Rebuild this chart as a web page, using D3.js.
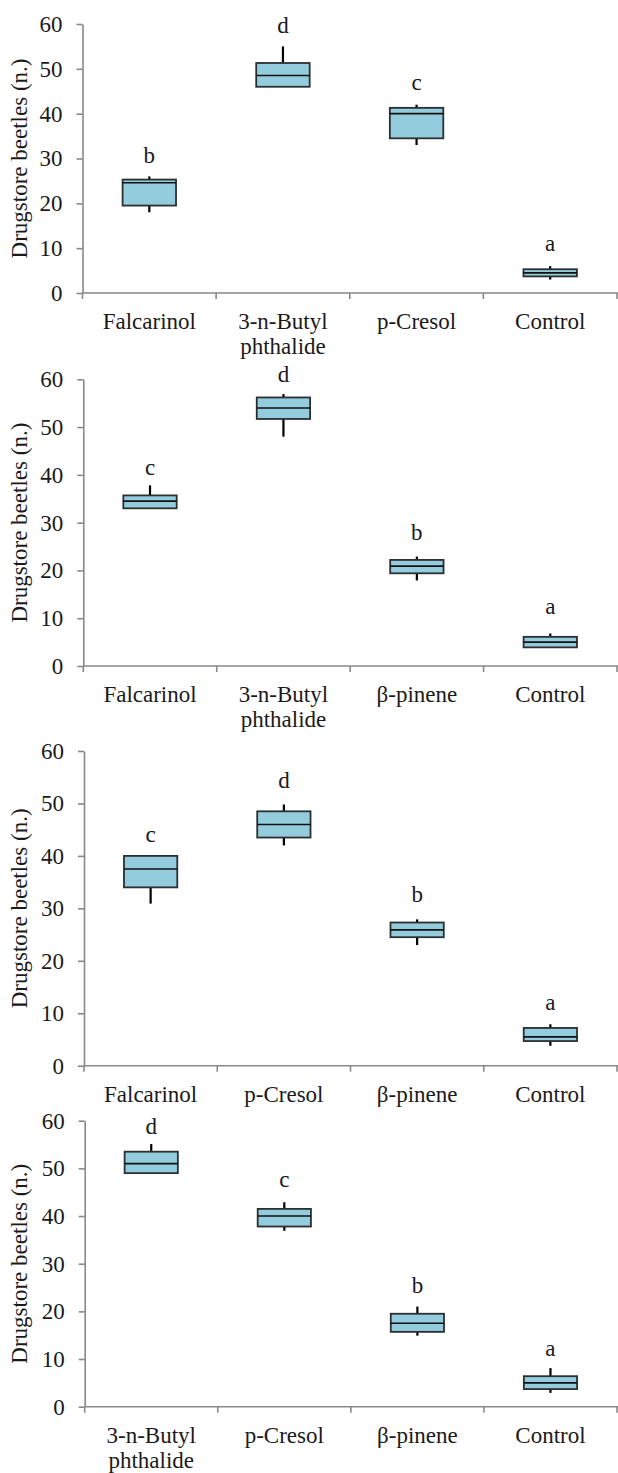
<!DOCTYPE html>
<html>
<head>
<meta charset="utf-8">
<script src="https://cdn.jsdelivr.net/npm/d3@7"></script>
<style>
  html, body { margin: 0; padding: 0; background: #fff; }
  svg { display: block; }
  svg text { font-family: "Liberation Serif", "Times New Roman", Times, serif !important; fill: #1a1a1a; }
</style>
</head>
<body>
<svg id="chart" width="618" height="1473"></svg>
<script>
// ---- Data ----
const categories1 = ["Falcarinol", "3-n-Butyl\nphthalide", "p-Cresol", "Control"];
const min1    = [18, 46, 33, 3];
const q1_1    = [19.5, 46, 34.5, 3.7];
const median1 = [24.6, 48.5, 40, 4.5];
const q3_1    = [25.3, 51.3, 41.3, 5.3];
const max1    = [26, 55, 42, 6];
const letters1 = ["b", "d", "c", "a"];
const letterY1 = [29.1, 57.9, 45.3, 9.4];

const categories2 = ["Falcarinol", "3-n-Butyl\nphthalide", "β-pinene", "Control"];
const min2    = [33, 48, 17.9, 3.9];
const q1_2    = [33, 51.7, 19.4, 3.9];
const median2 = [34.5, 54, 20.9, 5];
const q3_2    = [35.7, 56.2, 22.2, 6.1];
const max2    = [37.8, 56.9, 22.9, 6.8];
const letters2 = ["c", "d", "b", "a"];
const letterY2 = [40, 59.5, 26.4, 10.8];

const categories3 = ["Falcarinol", "p-Cresol", "β-pinene", "Control"];
const min3    = [30.9, 42, 23, 3.8];
const q1_3    = [34, 43.5, 24.5, 4.7];
const median3 = [37.5, 46, 25.9, 5.5];
const q3_3    = [40, 48.5, 27.3, 7.2];
const max3    = [40, 49.8, 27.9, 7.9];
const letters3 = ["c", "d", "b", "a"];
const letterY3 = [42.7, 52.9, 31.2, 10.6];

const categories4 = ["3-n-Butyl\nphthalide", "p-Cresol", "β-pinene", "Control"];
const min4    = [49, 36.9, 14.9, 2.9];
const q1_4    = [49, 37.8, 15.7, 3.7];
const median4 = [51, 40, 17.5, 5];
const q3_4    = [53.5, 41.5, 19.5, 6.4];
const max4    = [55.1, 42.9, 21, 8.1];
const letters4 = ["d", "c", "b", "a"];
const letterY4 = [57.3, 46, 23.9, 10.6];

const yTicks = [0, 10, 20, 30, 40, 50, 60];
const yDomain = [0, 60];
const yTitle = "Drugstore beetles (n.)";

// ---- Layout ----
const panels = [
  { cats: categories1, mn: min1, q1: q1_1, md: median1, q3: q3_1, mx: max1, let: letters1, ly: letterY1, top: 24,    bottom: 293,    left: 82.5 },
  { cats: categories2, mn: min2, q1: q1_2, md: median2, q3: q3_2, mx: max2, let: letters2, ly: letterY2, top: 379.3, bottom: 666,    left: 83.3 },
  { cats: categories3, mn: min3, q1: q1_3, md: median3, q3: q3_3, mx: max3, let: letters3, ly: letterY3, top: 751,   bottom: 1065.7, left: 84 },
  { cats: categories4, mn: min4, q1: q1_4, md: median4, q3: q3_4, mx: max4, let: letters4, ly: letterY4, top: 1120.7,bottom: 1406.7, left: 84.7 }
];
const right = 617;
const fontSize = 23;
const fontFam = "'Liberation Serif', 'Times New Roman', serif";
const axisColor = "#898989";
const boxFill = "#93cddd";
const boxStroke = "#2b2f31";

const svg = d3.select("#chart");

panels.forEach(p => {
  const g = svg.append("g");
  const x = d3.scaleBand().domain(p.cats).range([p.left, right]).paddingInner(0).paddingOuter(0);
  const y = d3.scaleLinear().domain(yDomain).range([p.bottom, p.top]);
  const bw = x.bandwidth() * 0.4;

  // Y axis
  const ya = g.append("g").attr("transform", `translate(${p.left},0)`)
    .call(d3.axisLeft(y).tickValues(yTicks).tickSize(6).tickPadding(14).tickSizeOuter(0));
  ya.attr("font-family", fontFam).attr("font-size", fontSize);
  ya.select(".domain").attr("stroke", axisColor).attr("stroke-width", 1.6);
  ya.selectAll(".tick line").attr("stroke", axisColor).attr("stroke-width", 1.6);
  ya.selectAll(".tick text").attr("font-size", fontSize).attr("font-family", fontFam).attr("fill", "#1a1a1a");

  // X axis line
  g.append("line").attr("x1", p.left).attr("x2", right + 1).attr("y1", p.bottom).attr("y2", p.bottom)
    .attr("stroke", axisColor).attr("stroke-width", 1.6);
  // boundary ticks
  const bounds = p.cats.map(c => x(c)).concat([x(p.cats[p.cats.length - 1]) + x.bandwidth()]);
  g.selectAll(".xtick").data(bounds).join("line")
    .attr("x1", d => d).attr("x2", d => d)
    .attr("y1", p.bottom).attr("y2", p.bottom + 6)
    .attr("stroke", axisColor).attr("stroke-width", 1.6);
  // category labels
  p.cats.forEach(c => {
    const lines = c.split("\n");
    const t = g.append("text").attr("text-anchor", "middle").attr("font-size", fontSize).attr("font-family", fontFam)
      .attr("x", x(c) + x.bandwidth() / 2).attr("y", p.bottom + 36);
    lines.forEach((ln, i) => {
      t.append("tspan").attr("x", x(c) + x.bandwidth() / 2).attr("dy", i === 0 ? 0 : 25).text(ln);
    });
  });

  // Y title
  g.append("text").attr("text-anchor", "middle").attr("font-size", fontSize).attr("font-family", fontFam)
    .attr("transform", `translate(27,${(p.top + p.bottom) / 2}) rotate(-90)`)
    .text(yTitle);

  // Boxes
  p.cats.forEach((c, i) => {
    const cx = x(c) + x.bandwidth() / 2;
    if (p.mx[i] > p.q3[i]) {
      g.append("line").attr("x1", cx).attr("x2", cx).attr("y1", y(p.mx[i])).attr("y2", y(p.q3[i]))
        .attr("stroke", "#000").attr("stroke-width", 2.2);
    }
    if (p.mn[i] < p.q1[i]) {
      g.append("line").attr("x1", cx).attr("x2", cx).attr("y1", y(p.q1[i])).attr("y2", y(p.mn[i]))
        .attr("stroke", "#000").attr("stroke-width", 2.2);
    }
    g.append("rect").attr("x", cx - bw / 2).attr("width", bw)
      .attr("y", y(p.q3[i])).attr("height", y(p.q1[i]) - y(p.q3[i]))
      .attr("fill", boxFill).attr("stroke", boxStroke).attr("stroke-width", 1.8);
    g.append("line").attr("x1", cx - bw / 2).attr("x2", cx + bw / 2)
      .attr("y1", y(p.md[i])).attr("y2", y(p.md[i]))
      .attr("stroke", "#111").attr("stroke-width", 1.6);
    g.append("text").attr("text-anchor", "middle").attr("font-size", fontSize).attr("font-family", fontFam)
      .attr("x", cx).attr("y", y(p.ly[i])).text(p.let[i]);
  });
});
</script>
</body>
</html>
